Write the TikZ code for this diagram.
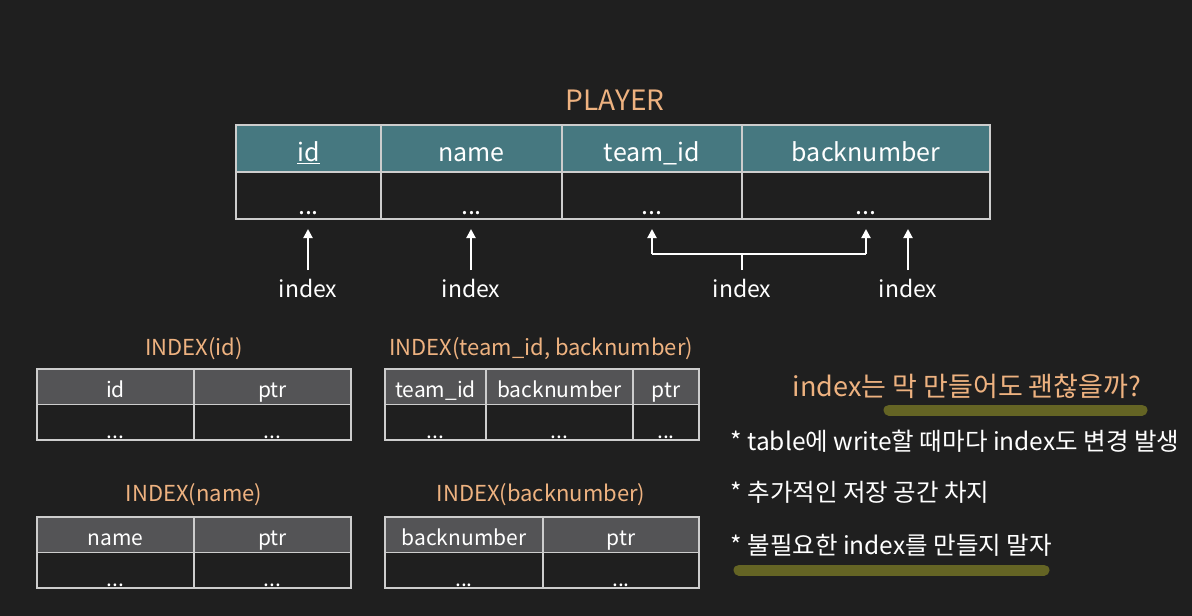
\documentclass[tikz,border=0pt]{standalone}
\usepackage{fontspec}
\setmainfont{Noto Sans CJK KR}
\usetikzlibrary{
    arrows.meta,
    positioning
}
\definecolor{bgdark}{RGB}{31,31,31}
\definecolor{gridcol}{RGB}{205,205,205}
\definecolor{tealhead}{RGB}{70,120,128}
\definecolor{grayhead}{RGB}{84,84,86}
\definecolor{peach}{RGB}{238,178,128}
\definecolor{olivebar}{RGB}{100,100,36}

\tikzset{
    cell/.style={draw=gridcol, line width=1.5pt, inner sep=0pt, outer sep=0pt, text=white, text depth=0pt},
    bigcell/.style={cell, minimum height=47pt, text height=26pt, font=\fontsize{25}{28}\selectfont},
    bigdata/.style={bigcell, text height=38pt},
    smallcell/.style={cell, minimum height=35.5pt, text height=22pt, font=\fontsize{21}{24}\selectfont},
    smalldata/.style={smallcell, text height=32pt},
    title/.style={text=peach, font=\fontsize{22}{26}\selectfont},
    idxlabel/.style={text=white, anchor=north, inner sep=2pt, font=\fontsize{23}{26}\selectfont},
    arr/.style={draw=white, line width=2pt, -{Triangle[length=9pt, width=9pt]}},
    note/.style={text=white, anchor=west, font=\fontsize{24.5}{28}\selectfont}
}

\begin{document}
\begin{tikzpicture}[x=1pt, y=-1pt]
    \fill[bgdark] (0,0) rectangle (1192,616);
    \useasboundingbox (0,0) rectangle (1192,616);

    % PLAYER table
    \node[title, font=\fontsize{28}{32}\selectfont] (ptitle) at (615,100) {PLAYER};
    \node[bigcell, fill=tealhead, minimum width=145pt, anchor=north west] (h1) at (236,125) {\underline{id}};
    \node[bigcell, fill=tealhead, minimum width=181pt, right=0pt of h1] (h2) {name};
    \node[bigcell, fill=tealhead, minimum width=180pt, right=0pt of h2] (h3) {team\_id};
    \node[bigcell, fill=tealhead, minimum width=248pt, right=0pt of h3] (h4) {backnumber};
    \node[bigdata, minimum width=145pt, below=0pt of h1] (d1) {...};
    \node[bigdata, minimum width=181pt, below=0pt of h2] (d2) {...};
    \node[bigdata, minimum width=180pt, below=0pt of h3] (d3) {...};
    \node[bigdata, minimum width=248pt, below=0pt of h4] (d4) {...};

    % index arrows
    \node[idxlabel] (ix1) at (308,277) {index};
    \node[idxlabel] (ix2) at (471,277) {index};
    \node[idxlabel] (ix3) at (742,277) {index};
    \node[idxlabel] (ix4) at (908,277) {index};
    \draw[arr, shorten <=7pt, shorten >=10pt] (ix1.north) -- (ix1.north |- d1.south);
    \draw[arr, shorten <=7pt, shorten >=10pt] (ix2.north) -- (ix2.north |- d2.south);
    \draw[arr, shorten <=7pt, shorten >=10pt] (ix4.north) -- (ix4.north |- d4.south);
    \coordinate (brk) at (742,254);
    \coordinate (bl) at (d3.south |- brk);
    \coordinate (br) at (d4.south |- brk);
    \draw[white, line width=2pt, shorten <=7pt] (ix3.north) -- (brk);
    \draw[white, line width=2pt] (bl) -- (br);
    \draw[arr, shorten >=10pt] (bl) -- (d3.south);
    \draw[arr, shorten >=10pt] (br) -- (d4.south);

    % INDEX(id)
    \node[title] (t1) at (194,349) {INDEX(id)};
    \node[smallcell, fill=grayhead, minimum width=157pt, anchor=north west] (a1) at (37,369) {id};
    \node[smallcell, fill=grayhead, minimum width=157pt, right=0pt of a1] (a2) {ptr};
    \node[smalldata, minimum width=157pt, below=0pt of a1] (a3) {...};
    \node[smalldata, minimum width=157pt, below=0pt of a2] (a4) {...};

    % INDEX(team_id, backnumber)
    \node[title] (t2) at (541,349) {INDEX(team\_id, backnumber)};
    \node[smallcell, fill=grayhead, minimum width=101pt, anchor=north west] (b1) at (385,369) {team\_id};
    \node[smallcell, fill=grayhead, minimum width=147pt, right=0pt of b1] (b2) {backnumber};
    \node[smallcell, fill=grayhead, minimum width=66pt, right=0pt of b2] (b3) {ptr};
    \node[smalldata, minimum width=101pt, below=0pt of b1] (b4) {...};
    \node[smalldata, minimum width=147pt, below=0pt of b2] (b5) {...};
    \node[smalldata, minimum width=66pt, below=0pt of b3] (b6) {...};

    % INDEX(name)
    \node[title] (t3) at (194,495) {INDEX(name)};
    \node[smallcell, fill=grayhead, minimum width=157pt, anchor=north west] (c1) at (37,517) {name};
    \node[smallcell, fill=grayhead, minimum width=157pt, right=0pt of c1] (c2) {ptr};
    \node[smalldata, minimum width=157pt, below=0pt of c1] (c3) {...};
    \node[smalldata, minimum width=157pt, below=0pt of c2] (c4) {...};

    % INDEX(backnumber)
    \node[title] (t4) at (541,495) {INDEX(backnumber)};
    \node[smallcell, fill=grayhead, minimum width=158pt, anchor=north west] (e1) at (385,517) {backnumber};
    \node[smallcell, fill=grayhead, minimum width=156pt, right=0pt of e1] (e2) {ptr};
    \node[smalldata, minimum width=158pt, below=0pt of e1] (e3) {...};
    \node[smalldata, minimum width=156pt, below=0pt of e2] (e4) {...};

    % notes
    \draw[olivebar, line width=11pt, line cap=round] (889,410) -- (1142,410);
    \draw[olivebar, line width=11pt, line cap=round] (739,570) -- (1044,570);
    \node[title, font=\fontsize{27}{30}\selectfont] (q) at (967,386) {index는 막 만들어도 괜찮을까?};
    \node[note] (n1) at (727,441) {* table에 write할 때마다 index도 변경 발생};
    \node[note] (n2) at (727,492) {* 추가적인 저장 공간 차지};
    \node[note] (n3) at (727,545) {* 불필요한 index를 만들지 말자};
\end{tikzpicture}
\end{document}
